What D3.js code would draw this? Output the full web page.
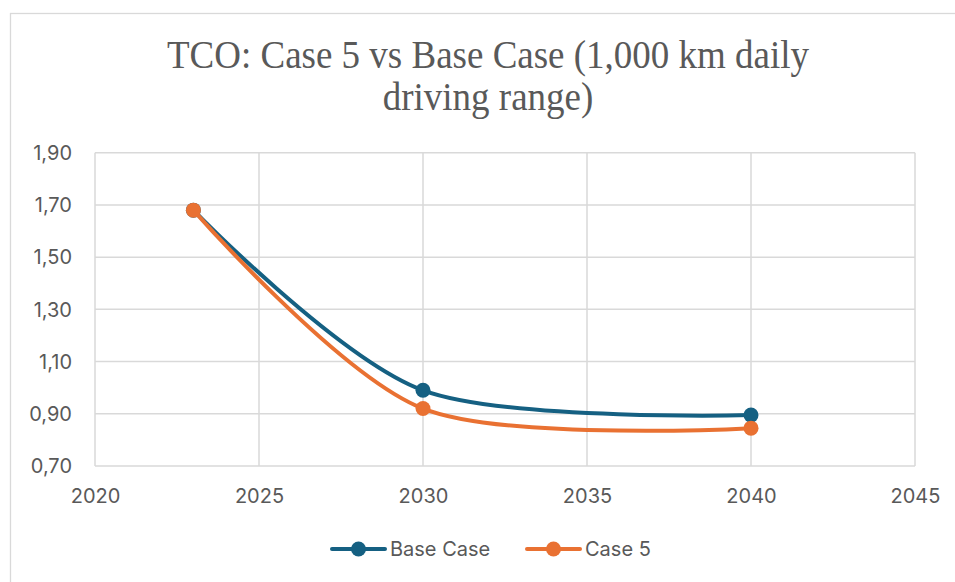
<!DOCTYPE html>
<html>
<head>
<meta charset="utf-8">
<script src="https://cdn.jsdelivr.net/npm/d3@7"></script>
<style>
  html, body { margin: 0; padding: 0; background: #fff; }
  svg { display: block; }
</style>
</head>
<body>
<svg id="chart" width="955" height="582"></svg>
<script>
// TCO ratio over time for the two scenarios
const years = [2023, 2030, 2040];
const baseCase = [1.68, 0.99, 0.895];
const case5 = [1.68, 0.92, 0.845];
const seriesNames = ["Base Case", "Case 5"];
const seriesColors = ["#156082", "#E97132"];
const yTicks = [0.70, 0.90, 1.10, 1.30, 1.50, 1.70, 1.90];
const xTicks = [2020, 2025, 2030, 2035, 2040, 2045];
const titleLines = ["TCO: Case 5 vs Base Case (1,000 km daily", "driving range)"];

const svg = d3.select("#chart");
const W = 955, H = 582;
const plot = { left: 95, right: 915, top: 152.7, bottom: 466 };

// Outer chart frame
svg.append("rect")
  .attr("x", 10.5).attr("y", 13.5)
  .attr("width", W + 20).attr("height", H + 20)
  .attr("fill", "#fff").attr("stroke", "#d9d9d9").attr("stroke-width", 1.3);

const x = d3.scaleLinear().domain([2020, 2045]).range([plot.left, plot.right]);
const y = d3.scaleLinear().domain([0.70, 1.90]).range([plot.bottom, plot.top]);

const grid = svg.append("g").attr("stroke", "#d9d9d9").attr("stroke-width", 1.5);
grid.selectAll("line.h").data(yTicks).join("line")
  .attr("x1", plot.left).attr("x2", plot.right)
  .attr("y1", d => y(d)).attr("y2", d => y(d));
grid.selectAll("line.v").data(xTicks).join("line")
  .attr("y1", plot.top).attr("y2", plot.bottom)
  .attr("x1", d => x(d)).attr("x2", d => x(d));

const fmt = d => d3.format(".2f")(d).replace(".", ",");
const font = "Inter, 'Liberation Sans', Arial, sans-serif";

// Y axis labels
const yAxis = svg.append("g")
  .attr("transform", `translate(${plot.left - 23},0)`)
  .call(d3.axisLeft(y).tickValues(yTicks).tickFormat(fmt).tickSize(0).tickPadding(0));
yAxis.select(".domain").remove();
yAxis.selectAll("text")
  .attr("font-family", font).attr("font-size", 20).attr("fill", "#595959")
  .attr("dy", "0.34em");

// X axis labels
const xAxis = svg.append("g")
  .attr("transform", `translate(0,${plot.bottom})`)
  .call(d3.axisBottom(x).tickValues(xTicks).tickFormat(d3.format("d")).tickSize(0).tickPadding(0));
xAxis.select(".domain").remove();
xAxis.selectAll("text")
  .attr("font-family", font).attr("font-size", 20).attr("fill", "#595959")
  .attr("y", 37).attr("dy", 0);

// Title, slightly condensed serif
const titleX = 488;
svg.append("g")
  .attr("transform", `translate(${titleX},0) scale(0.925,1)`)
  .append("text")
  .attr("text-anchor", "middle")
  .attr("font-family", "'Liberation Serif', 'Times New Roman', serif")
  .attr("font-size", 40).attr("fill", "#595959")
  .selectAll("tspan").data(titleLines).join("tspan")
  .attr("x", 0).attr("y", (d, i) => 68 + i * 42)
  .text(d => d);

// Smoothed series lines with markers
const seriesData = [baseCase, case5];
const line = d3.line()
  .x(d => x(d[0])).y(d => y(d[1]))
  .curve(d3.curveCardinal.tension(0.1));

seriesData.forEach((vals, i) => {
  const pts = years.map((yr, j) => [yr, vals[j]]);
  const g = svg.append("g");
  g.append("path").datum(pts)
    .attr("d", line)
    .attr("fill", "none").attr("stroke", seriesColors[i])
    .attr("stroke-width", 4).attr("stroke-linecap", "round");
  g.selectAll("circle").data(pts).join("circle")
    .attr("cx", d => x(d[0])).attr("cy", d => y(d[1]))
    .attr("r", 7.5).attr("fill", seriesColors[i]);
});

// Legend
const legendItems = [
  { name: seriesNames[0], color: seriesColors[0], x0: 332 },
  { name: seriesNames[1], color: seriesColors[1], x0: 527 }
];
const lg = svg.append("g");
legendItems.forEach(it => {
  lg.append("line")
    .attr("x1", it.x0).attr("x2", it.x0 + 53)
    .attr("y1", 549).attr("y2", 549)
    .attr("stroke", it.color).attr("stroke-width", 4).attr("stroke-linecap", "round");
  lg.append("circle")
    .attr("cx", it.x0 + 26.5).attr("cy", 549).attr("r", 7.5).attr("fill", it.color);
  lg.append("text")
    .attr("x", it.x0 + 58).attr("y", 556)
    .attr("font-family", font).attr("font-size", 20).attr("fill", "#595959")
    .text(it.name);
});
</script>
</body>
</html>
